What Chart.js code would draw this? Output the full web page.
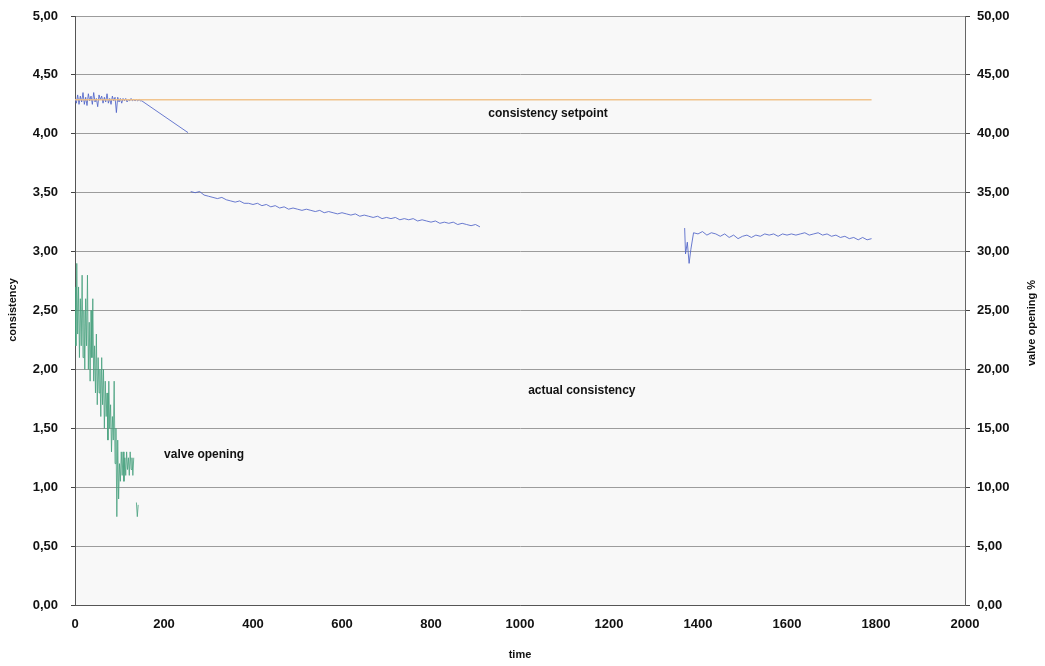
<!DOCTYPE html>
<html>
<head>
<meta charset="utf-8">
<script src="https://cdn.jsdelivr.net/npm/chart.js@4"></script>
<style>
html,body{margin:0;padding:0;background:#fff;}
#wrap{width:1045px;height:666px;position:relative;}
</style>
</head>
<body>
<div id="wrap"><canvas id="c" width="1045" height="666"></canvas></div>
<script>
// ---- data ----
const setpointTime = [0, 1790];
const setpointValues = [4.29, 4.29];

const actualTime = [
  0,3,6,9,12,15,18,21,24,27,30,33,36,39,42,45,48,51,54,57,60,63,66,69,72,75,78,81,84,87,90,93,96,99,102,105,108,111,114,117,120,123,126,129,132,135,138,141,144,147,150,200,254,
  256,
  260,270,280,290,300,310,320,330,340,350,360,370,380,390,400,410,420,430,440,450,460,470,480,490,500,510,520,530,540,550,560,570,580,590,600,610,620,630,640,650,660,670,680,690,700,710,720,730,740,750,760,770,780,790,800,810,820,830,840,850,860,870,880,890,900,910,
  1000,
  1370,1372,1376,1380,1384,1390,1400,1410,1420,1430,1440,1450,1460,1470,1480,1490,1500,1510,1520,1530,1540,1550,1560,1570,1580,1590,1600,1610,1620,1630,1640,1650,1660,1670,1680,1690,1700,1710,1720,1730,1740,1750,1760,1770,1780,1790
];
const actualValues = [
  4.30,4.26,4.33,4.25,4.32,4.27,4.35,4.25,4.31,4.24,4.34,4.28,4.32,4.25,4.35,4.27,4.30,4.23,4.33,4.29,4.32,4.26,4.31,4.27,4.34,4.26,4.30,4.25,4.32,4.28,4.31,4.18,4.31,4.27,4.30,4.26,4.30,4.28,4.30,4.27,4.29,4.28,4.30,4.28,4.29,4.28,4.29,4.28,4.29,4.28,4.28,4.15,4.01,
  null,
  3.51,3.50,3.51,3.48,3.47,3.46,3.45,3.46,3.44,3.43,3.42,3.43,3.41,3.41,3.40,3.41,3.39,3.40,3.38,3.39,3.37,3.38,3.36,3.37,3.36,3.35,3.36,3.35,3.34,3.35,3.33,3.34,3.33,3.32,3.33,3.32,3.31,3.32,3.30,3.31,3.30,3.29,3.30,3.28,3.29,3.28,3.29,3.27,3.28,3.27,3.28,3.26,3.27,3.26,3.25,3.26,3.24,3.25,3.24,3.25,3.23,3.24,3.23,3.22,3.23,3.21,
  null,
  3.20,2.98,3.08,2.90,3.02,3.16,3.15,3.17,3.14,3.16,3.15,3.13,3.15,3.12,3.14,3.11,3.13,3.14,3.12,3.14,3.13,3.15,3.14,3.15,3.13,3.15,3.14,3.15,3.14,3.15,3.16,3.14,3.15,3.16,3.14,3.15,3.13,3.14,3.12,3.13,3.11,3.12,3.10,3.12,3.10,3.11
];

const valveTime = [
  0,2,4,6,8,10,12,14,16,18,20,22,24,26,28,30,32,34,36,38,40,42,44,46,48,50,52,54,56,58,60,62,64,66,68,70,72,74,76,78,80,82,84,86,88,90,92,94,96,98,100,102,104,106,108,110,112,114,116,118,120,122,124,126,128,130,132,
  135,
  138,140,142
];
const valveValues = [
  27,22,29,23,27,21,26,22,28,21,25,20,26,22,28,20,24,19,25,21,26,19,22,18,23,17,21,18,20,16,21,17,20,15,19,16,18,14,19,15,17,13,16,14,19,12,15,7.5,14,9,12,10.5,13,11,13,10.5,12.5,11,13,11.5,12.5,11,13,11.5,12.5,11,12.5,
  null,
  8.7,7.5,8.5
];

const xTicks = [0,200,400,600,800,1000,1200,1400,1600,1800,2000];
const annotationTexts = ['consistency setpoint','actual consistency','valve opening'];
const annotationTimes = [1063, 1139, 290];
const annotationValues = [4.168, 1.817, 1.273];

// ---- build ----
const toPts = (xs, ys) => xs.map((x, i) => ({x: x, y: ys[i]}));
const FONT = '"Liberation Sans", Arial, Helvetica, sans-serif';
const fmt = v => Number(v).toFixed(2).replace('.', ',');

const deco = {
  id: 'deco',
  beforeDraw(chart) {
    const {ctx, chartArea: a} = chart;
    ctx.save();
    ctx.fillStyle = '#f8f8f8';
    ctx.fillRect(a.left, a.top, a.right - a.left, a.bottom - a.top);
    ctx.restore();
  },
  afterDraw(chart) {
    const ctx = chart.ctx;
    const xs = chart.scales.x, ys = chart.scales.y;
    ctx.save();
    ctx.fillStyle = '#111';
    ctx.font = 'bold 12px ' + FONT;
    ctx.textAlign = 'center';
    ctx.textBaseline = 'middle';
    annotationTexts.forEach((t, i) => {
      ctx.fillText(t, xs.getPixelForValue(annotationTimes[i]), ys.getPixelForValue(annotationValues[i]));
    });
    ctx.font = 'bold 11px ' + FONT;
    ctx.fillText('time', 520, 655);
    ctx.save();
    ctx.translate(13, 310);
    ctx.rotate(-Math.PI / 2);
    ctx.fillText('consistency', 0, 0);
    ctx.restore();
    ctx.save();
    ctx.translate(1032, 323);
    ctx.rotate(-Math.PI / 2);
    ctx.fillText('valve opening %', 0, 0);
    ctx.restore();
    ctx.restore();
  }
};

const noPad = s => { s.paddingTop = 0; s.paddingBottom = 0; };

new Chart(document.getElementById('c'), {
  type: 'line',
  data: {
    datasets: [
      {label: 'consistency setpoint', data: toPts(setpointTime, setpointValues), borderColor: 'rgba(240,190,130,0.9)', borderWidth: 1.5, yAxisID: 'y'},
      {label: 'actual consistency', data: toPts(actualTime, actualValues), borderColor: 'rgba(80,100,200,0.85)', borderWidth: 1, yAxisID: 'y'},
      {label: 'valve opening', data: toPts(valveTime, valveValues), borderColor: 'rgba(70,160,125,0.8)', borderWidth: 1, yAxisID: 'y1'}
    ]
  },
  plugins: [deco],
  options: {
    responsive: false,
    animation: false,
    spanGaps: false,
    elements: {point: {radius: 0}, line: {tension: 0}},
    layout: {padding: {top: 16, left: 0, right: 0, bottom: 0}},
    plugins: {legend: {display: false}, tooltip: {enabled: false}},
    scales: {
      x: {
        type: 'linear', min: 0, max: 2000,
        afterBuildTicks: s => { s.ticks = xTicks.map(v => ({value: v})); },
        afterFit: s => { s.height = 61; s.paddingLeft = 0; s.paddingRight = 0; },
        grid: {display: false},
        border: {display: true, color: '#555', width: 1},
        ticks: {color: '#111', font: {family: FONT, size: 13, weight: 'bold'}, padding: 4, maxRotation: 0, callback: v => String(v)}
      },
      y: {
        position: 'left', min: 0, max: 5,
        afterFit: s => { s.width = 75; noPad(s); },
        grid: {color: '#9c9c9c', lineWidth: 1, tickLength: 4, tickColor: '#444'},
        border: {display: true, color: '#555', width: 1},
        ticks: {stepSize: 0.5, color: '#111', font: {family: FONT, size: 13, weight: 'bold'}, padding: 13, callback: v => fmt(v)}
      },
      y1: {
        position: 'right', min: 0, max: 50,
        afterFit: s => { s.width = 80; noPad(s); },
        grid: {drawOnChartArea: false, tickLength: 5, tickColor: '#444'},
        border: {display: true, color: '#666', width: 1},
        ticks: {stepSize: 5, color: '#111', font: {family: FONT, size: 13, weight: 'bold'}, padding: 7, callback: v => fmt(v)}
      }
    }
  }
});
</script>
</body>
</html>
